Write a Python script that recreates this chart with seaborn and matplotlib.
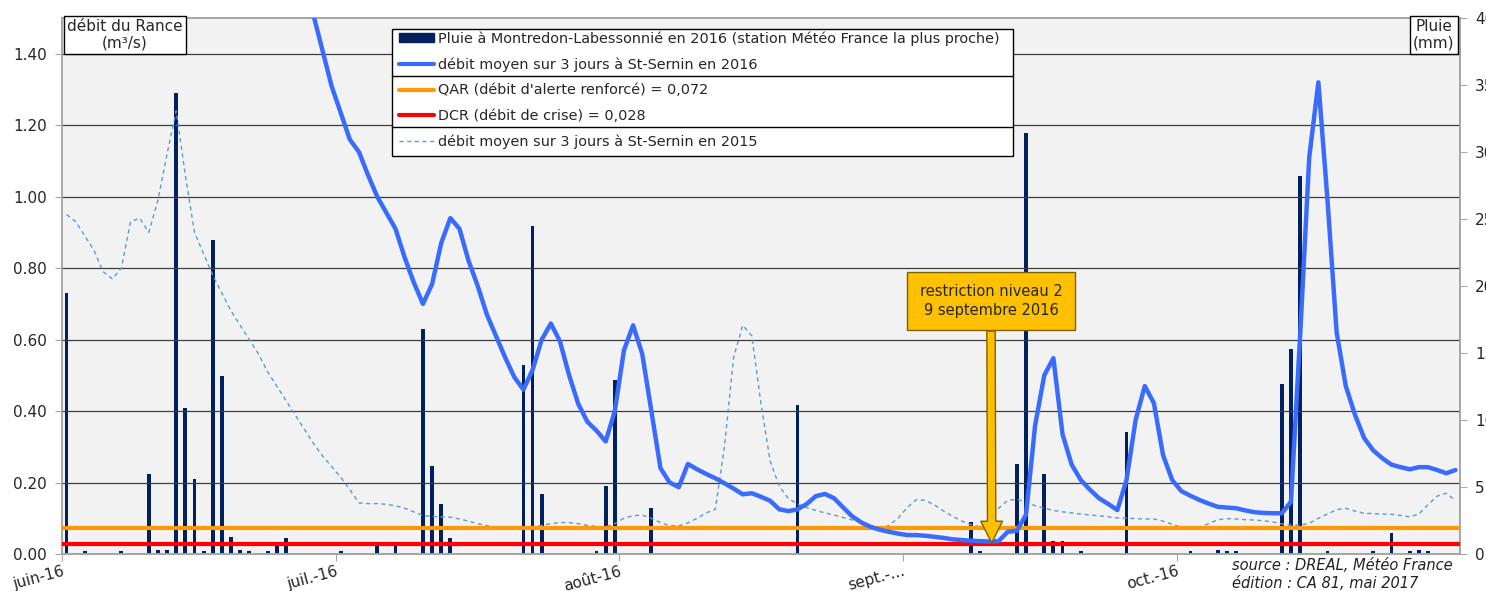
import matplotlib
matplotlib.use("Agg")
import matplotlib.pyplot as plt
import matplotlib.transforms as mtransforms
from matplotlib.lines import Line2D
from matplotlib.patches import Patch, Rectangle
import numpy as np
import pandas as pd
import seaborn as sns

# ---- data (days counted from 1 June 2016) ----
rain_day = [0, 2, 6, 9, 10, 11, 12, 13, 14, 15, 16, 17, 18, 19, 20, 22, 23, 24,
            30, 34, 36, 39, 40, 41, 42, 50, 51, 52, 58, 59, 60, 64, 80, 99, 100,
            104, 105, 107, 108, 109, 111, 116, 123, 126, 127, 128, 133, 134, 135,
            138, 143, 145, 147, 148, 149]
rain_mm = [19.5, 0.2, 0.2, 6.0, 0.3, 0.3, 34.4, 10.9, 5.6, 0.2, 23.4, 13.3, 1.3, 0.3, 0.2, 0.2, 0.6, 1.2,
           0.2, 0.6, 0.6, 16.8, 6.6, 3.7, 1.2, 14.1, 24.5, 4.5, 0.2, 5.1, 13.0, 3.4, 11.1, 2.4, 0.2,
           6.7, 31.4, 6.0, 1.0, 1.0, 0.2, 9.1, 0.2, 0.3, 0.2, 0.2, 12.7, 15.3, 28.2,
           0.2, 0.2, 1.6, 0.2, 0.3, 0.2]

flow_2016_first_day = 26
flow_2016 = [1.62, 1.51, 1.41, 1.31, 1.235, 1.16, 1.125, 1.06, 1.00, 0.955,
             0.91, 0.83, 0.76, 0.70, 0.755, 0.87, 0.94, 0.91, 0.82, 0.75,
             0.67, 0.61, 0.55, 0.495, 0.46, 0.515, 0.60, 0.645, 0.595, 0.50,
             0.42, 0.37, 0.345, 0.315, 0.40, 0.57, 0.64, 0.56, 0.40, 0.24,
             0.20, 0.187, 0.252, 0.237, 0.224, 0.212, 0.198, 0.183, 0.167, 0.170,
             0.16, 0.149, 0.125, 0.12, 0.125, 0.14, 0.162, 0.168, 0.156, 0.13,
             0.105, 0.088, 0.076, 0.068, 0.062, 0.057, 0.053, 0.053, 0.051, 0.048,
             0.045, 0.041, 0.039, 0.037, 0.036, 0.035, 0.036, 0.062, 0.065, 0.11,
             0.36, 0.50, 0.548, 0.335, 0.25, 0.207, 0.18, 0.156, 0.14, 0.123,
             0.207, 0.375, 0.47, 0.422, 0.277, 0.207, 0.176, 0.163, 0.151, 0.141,
             0.132, 0.130, 0.128, 0.122, 0.117, 0.115, 0.114, 0.114, 0.146, 0.61,
             1.11, 1.32, 0.99, 0.62, 0.47, 0.39, 0.325, 0.29, 0.268, 0.25,
             0.243, 0.237, 0.243, 0.243, 0.235, 0.226, 0.235]

flow_2015 = [0.95, 0.93, 0.89, 0.85, 0.79, 0.77, 0.80, 0.93, 0.94, 0.90,
             0.99, 1.12, 1.24, 1.06, 0.90, 0.84, 0.78, 0.73, 0.68, 0.64,
             0.60, 0.56, 0.51, 0.47, 0.43, 0.39, 0.35, 0.31, 0.275, 0.245,
             0.215, 0.18, 0.143, 0.141, 0.141, 0.139, 0.135, 0.128, 0.118, 0.108,
             0.105, 0.104, 0.103, 0.098, 0.092, 0.085, 0.079, 0.074, 0.073, 0.074,
             0.076, 0.077, 0.080, 0.085, 0.088, 0.088, 0.085, 0.080, 0.077, 0.076,
             0.085, 0.100, 0.107, 0.109, 0.100, 0.088, 0.079, 0.079, 0.087, 0.100,
             0.115, 0.125, 0.30, 0.55, 0.64, 0.61, 0.42, 0.26, 0.19, 0.155,
             0.14, 0.13, 0.122, 0.115, 0.109, 0.102, 0.095, 0.088, 0.080, 0.071,
             0.080, 0.100, 0.130, 0.152, 0.150, 0.137, 0.120, 0.105, 0.092, 0.082,
             0.076, 0.095, 0.128, 0.150, 0.153, 0.145, 0.135, 0.128, 0.122, 0.118,
             0.115, 0.112, 0.109, 0.107, 0.104, 0.101, 0.100, 0.099, 0.098, 0.098,
             0.092, 0.083, 0.075, 0.074, 0.075, 0.085, 0.096, 0.099, 0.098, 0.096,
             0.095, 0.093, 0.090, 0.084, 0.081, 0.081, 0.086, 0.100, 0.112, 0.124,
             0.128, 0.120, 0.114, 0.113, 0.112, 0.111, 0.108, 0.104, 0.112, 0.138,
             0.162, 0.170, 0.150]

qar = 0.072
dcr = 0.028
restriction_day = 101.75

month_ticks = [0, 30, 61, 92, 122]
month_labels = ["juin-16", "juil.-16", "août-16", "sept.-...", "oct.-16"]
flow_ticks = [0.0, 0.2, 0.4, 0.6, 0.8, 1.0, 1.2, 1.4]
rain_ticks = [0, 5, 10, 15, 20, 25, 30, 35, 40]

legend_labels = [
    "Pluie à Montredon-Labessonnié en 2016 (station Météo France la plus proche)",
    "débit moyen sur 3 jours à St-Sernin en 2016",
    "QAR (débit d'alerte renforcé) = 0,072",
    "DCR (débit de crise) = 0,028",
    "débit moyen sur 3 jours à St-Sernin en 2015",
]

NAVY = "#002060"
BLUE = "#3A6BFF"
BLUE_2015 = "#5B9BD5"
ORANGE = "#FF9900"
RED = "#FF0000"
GRAY = "#A6A6A6"

sns.set_style("white")
plt.rcParams["font.family"] = ["DejaVu Sans"]

W, H = 1486, 591
fig = plt.figure(figsize=(W / 100, H / 100), dpi=100)
ax = fig.add_axes([62 / W, 1 - 554 / H, (1460 - 62) / W, (554 - 18) / H])
ax2 = ax.twinx()
ax.set_zorder(ax2.get_zorder() + 1)
ax.patch.set_visible(False)
ax2.patch.set_visible(True)
ax2.set_facecolor("#F2F2F2")

# rain bars on the right axis
ax2.bar(np.array(rain_day) + 0.5, rain_mm, width=0.42, color=NAVY, linewidth=0)
ax2.set_ylim(0, 40)
ax2.set_yticks(rain_ticks)

# flows on the left axis
df15 = pd.DataFrame({"jour": np.arange(len(flow_2015)) + 0.5, "debit": flow_2015})
df16 = pd.DataFrame({"jour": np.arange(flow_2016_first_day, flow_2016_first_day + len(flow_2016)) + 0.5,
                     "debit": flow_2016})
sns.lineplot(data=df15, x="jour", y="debit", ax=ax, color=BLUE_2015, lw=1.0,
             linestyle=(0, (3, 2.5)), zorder=2)
ax.axhline(qar, color=ORANGE, lw=3.0, zorder=3)
ax.axhline(dcr, color=RED, lw=3.0, zorder=3)
sns.lineplot(data=df16, x="jour", y="debit", ax=ax, color=BLUE, lw=3.2, zorder=4)

ax.set_xlim(0, 153)
ax.set_ylim(0, 1.5)
ax.set_yticks(flow_ticks)
ax.set_yticklabels([f"{v:.2f}" for v in flow_ticks])
ax.set_xticks(month_ticks)
ax.set_xticklabels(month_labels, rotation=15, ha="right", va="top", rotation_mode="anchor")
offset = mtransforms.ScaledTranslation(7 / 100, 1 / 100, fig.dpi_scale_trans)
for lab in ax.get_xticklabels():
    lab.set_transform(lab.get_transform() + offset)
ax.set_xlabel("")
ax.set_ylabel("")
ax.yaxis.grid(True, color="#3C3C3C", lw=0.9)
ax.xaxis.grid(False)

for a in (ax, ax2):
    for s in a.spines.values():
        s.set_color(GRAY)
        s.set_linewidth(1.2)
ax.tick_params(axis="y", length=5, color=GRAY, labelsize=11, pad=6, left=True)
ax.tick_params(axis="x", length=5, color=GRAY, labelsize=11, pad=2, bottom=True)
ax2.tick_params(axis="y", length=5, color=GRAY, labelsize=11, pad=6, right=True)

# restriction annotation
fig.text(991 / W, 1 - 301 / H, "restriction niveau 2\n9 septembre 2016", ha="center", va="center",
         fontsize=10.5, linespacing=1.25,
         bbox=dict(boxstyle="square,pad=0.85", fc="#FFC000", ec="#7F6000", lw=1), zorder=7)
ax.annotate("", xy=(restriction_day, 0.031), xytext=(991, H - 331), textcoords="figure pixels",
            arrowprops=dict(arrowstyle="simple,head_length=1.3,head_width=1.3,tail_width=0.5",
                            fc="#FFC000", ec="#7F6000", lw=1, mutation_scale=12, shrinkA=0, shrinkB=0),
            zorder=6)

# axis title boxes
fig.text(125 / W, 1 - 35 / H, "débit du Rance\n(m³/s)", ha="center", va="center", fontsize=11,
         linespacing=1.15, bbox=dict(boxstyle="square,pad=0.2", fc="white", ec="black", lw=1))
fig.text(1434 / W, 1 - 35 / H, "Pluie\n(mm)", ha="center", va="center", fontsize=11,
         linespacing=1.15, bbox=dict(boxstyle="square,pad=0.2", fc="white", ec="black", lw=1))

# legend with grouped frame
fig.add_artist(Rectangle((392 / W, 1 - 156 / H), 621 / W, 127 / H, transform=fig.transFigure,
                         fc="white", ec="black", lw=1, zorder=4))
for yy in (76, 127):
    fig.add_artist(Line2D([392 / W, 1013 / W], [1 - yy / H, 1 - yy / H], transform=fig.transFigure,
                          color="black", lw=1, zorder=4.5))
handles = [
    Patch(facecolor=NAVY, edgecolor=NAVY),
    Line2D([], [], color=BLUE, lw=3),
    Line2D([], [], color=ORANGE, lw=3),
    Line2D([], [], color=RED, lw=3),
    Line2D([], [], color=BLUE_2015, lw=1, linestyle=(0, (3, 2.5))),
]
fig.legend(handles, legend_labels, loc="upper left", bbox_to_anchor=(389 / W, 1 - 21 / H),
           bbox_transform=fig.transFigure, frameon=False, fontsize=10.4, borderpad=0.2,
           handlelength=2.4, handletextpad=0.3, labelspacing=0.8, handleheight=0.5)

# source
fig.text(1232 / W, 1 - 566 / H, "source : DREAL, Météo France", ha="left", va="center",
         fontsize=10.5, style="italic", color="#222222")
fig.text(1232 / W, 1 - 583 / H, "édition : CA 81, mai 2017", ha="left", va="center",
         fontsize=10.5, style="italic", color="#222222")

fig.savefig("out.png", dpi=100)
